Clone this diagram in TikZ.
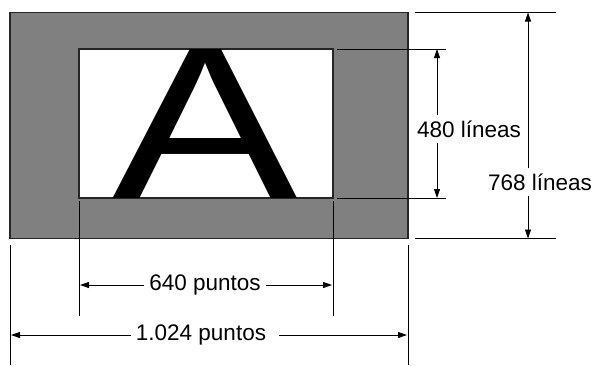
\documentclass[tikz,border=0pt]{standalone}
\usepackage{fontspec}
\setmainfont{Liberation Sans}
\usetikzlibrary{arrows.meta}
\usetikzlibrary{positioning}

\begin{document}
\begin{tikzpicture}[x=1pt, y=-1pt, >={Triangle[length=9pt,width=6pt]},
    dim/.style={line width=0.8pt},
    lbl/.style={font=\fontsize{22.5}{22.5}\selectfont, inner sep=5pt}]
      \useasboundingbox (0,0) rectangle (596,365);

      % screen and picture area
      \node[draw=black!85, line width=1.2pt, fill=black!50, inner sep=0pt,
            minimum width=398pt, minimum height=226pt] (scr) at (209,125.5) {};
      \node[draw=black!85, line width=1.2pt, fill=white, inner sep=0pt,
            minimum width=254pt, minimum height=149pt] (pic) at (206,123.5) {};
      \begin{scope}
        \clip (pic.south west) rectangle (pic.north east);
        \node[inner sep=0pt, anchor=base, font=\fontsize{219}{219}\selectfont]
              (A) at (205.5,198.5) {\scalebox{1.27}[1]{A}};
      \end{scope}
      \draw[black!85, line width=1.2pt] (pic.south west) rectangle (pic.north east);

      % extension lines
      \draw[dim] (415,12.5) -- (556,12.5);
      \draw[dim] (415,238.5) -- (556,238.5);
      \draw[dim] (337,49) -- (446,49);
      \draw[dim] (337,198) -- (446,198);
      \draw[dim] (79,201) -- (79,316);
      \draw[dim] (333,201) -- (333,316);
      \draw[dim] (10,245) -- (10,365);
      \draw[dim] (408,245) -- (408,365);

      % 480 lines
      \coordinate (t480) at (437,49);
      \coordinate (b480) at (437,198);
      \node[lbl] (l480) at (469,129) {480 líneas};
      \draw[dim,->] (l480.north -| t480) -- (t480);
      \draw[dim,->] (l480.south -| b480) -- (b480);

      % 768 lines
      \coordinate (t768) at (528,12.5);
      \coordinate (b768) at (528,238.5);
      \node[lbl] (l768) at (540,182) {768 líneas};
      \draw[dim,->] (l768.north -| t768) -- (t768);
      \draw[dim,->] (l768.south -| b768) -- (b768);

      % 640 points
      \coordinate (l640) at (80,285);
      \coordinate (r640) at (332,285);
      \node[lbl] (p640) at (205,285) {640 puntos};
      \draw[dim,->] (p640) -- (l640);
      \draw[dim,->] (p640) -- (r640);

      % 1.024 points
      \coordinate (l1024) at (11,335);
      \coordinate (r1024) at (407,335);
      \node[lbl] (p1024) at (201,335) {1.024 puntos};
      \draw[dim,->] (p1024) -- (l1024);
      \draw[dim,->] ([xshift=8pt]p1024.east) -- (r1024);
    \end{tikzpicture}
\end{document}
